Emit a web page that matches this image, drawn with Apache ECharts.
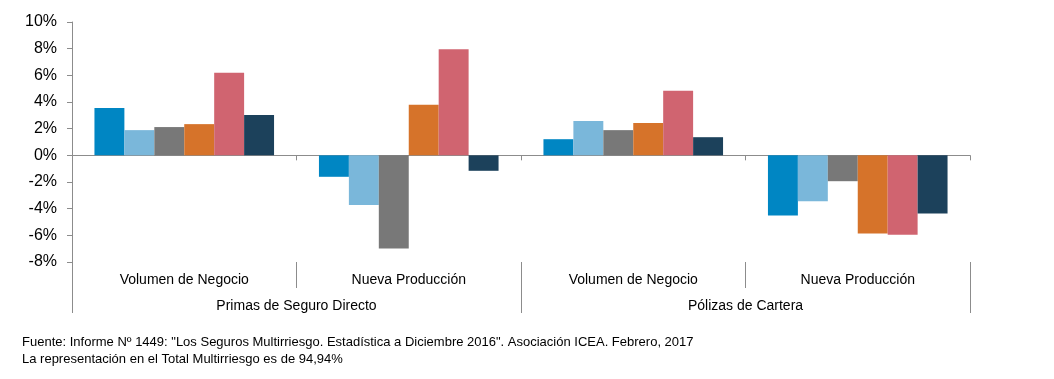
<!DOCTYPE html>
<html>
<head>
<meta charset="utf-8">
<script src="https://cdn.jsdelivr.net/npm/echarts@6/dist/echarts.min.js"></script>
<style>
html,body{margin:0;padding:0;background:#fff;}
#chart{width:1054px;height:379px;}
</style>
</head>
<body>
<div id="chart"></div>
<script>
const subCategories = ["Volumen de Negocio", "Nueva Producción", "Volumen de Negocio", "Nueva Producción"];
const parentCategories = ["Primas de Seguro Directo", "Pólizas de Cartera"];
const seriesNames = ["Serie 1", "Serie 2", "Serie 3", "Serie 4", "Serie 5", "Serie 6"];
const serie1 = [3.55, -1.61, 1.21, -4.51];
const serie2 = [1.89, -3.73, 2.57, -3.45];
const serie3 = [2.12, -6.98, 1.89, -1.94];
const serie4 = [2.34, 3.80, 2.42, -5.87];
const serie5 = [6.20, 7.96, 4.84, -5.95];
const serie6 = [3.02, -1.16, 1.36, -4.36];
const colors = ["#0086C3", "#7AB7DA", "#787878", "#D6732A", "#D06470", "#1C415B"];
const yTicks = {min: -8, max: 10, interval: 2};
const footnote1 = 'Fuente: Informe Nº 1449: "Los Seguros Multirriesgo. Estadística a Diciembre 2016". Asociación ICEA. Febrero, 2017';
const footnote2 = 'La representación en el Total Multirriesgo es de 94,94%';

const FONT = '"Liberation Sans", Arial, sans-serif';
const axisColor = '#8c8c8c';
const allSeries = [serie1, serie2, serie3, serie4, serie5, serie6];

const chart = echarts.init(document.getElementById('chart'), null, {renderer: 'canvas'});
chart.setOption({
  animation: false,
  backgroundColor: '#fff',
  grid: {left: 72, right: 84, top: 22, bottom: 117, containLabel: false},
  xAxis: [
    {
      type: 'category', data: subCategories, position: 'bottom',
      axisLine: {show: true, onZero: true, lineStyle: {color: axisColor, width: 1}},
      axisTick: {show: true, length: 5, interval: 0, lineStyle: {color: axisColor}},
      axisLabel: {show: false}, splitLine: {show: false}
    },
    {
      type: 'category', data: subCategories, position: 'bottom',
      axisLine: {show: false, onZero: false},
      axisTick: {show: true, length: 26, interval: 0, lineStyle: {color: axisColor}},
      axisLabel: {show: true, interval: 0, margin: 11, color: '#000', fontSize: 14, fontFamily: FONT},
      splitLine: {show: false}
    },
    {
      type: 'category', data: parentCategories, position: 'bottom', offset: 26,
      axisLine: {show: false, onZero: false},
      axisTick: {show: true, length: 25, interval: 0, lineStyle: {color: axisColor}},
      axisLabel: {show: true, interval: 0, margin: 11, color: '#000', fontSize: 14, fontFamily: FONT},
      splitLine: {show: false}
    }
  ],
  yAxis: {
    type: 'value', min: yTicks.min, max: yTicks.max, interval: yTicks.interval,
    axisLine: {show: true, lineStyle: {color: axisColor, width: 1}},
    axisTick: {show: true, length: 5, lineStyle: {color: axisColor}},
    axisLabel: {margin: 15, color: '#000', fontSize: 16, fontFamily: FONT, formatter: v => v + '%'},
    splitLine: {show: false}
  },
  series: allSeries.map((d, i) => ({
    name: seriesNames[i], type: 'bar', xAxisIndex: 0, data: d,
    barGap: 0, barCategoryGap: '20%',
    itemStyle: {color: colors[i]}
  })),
  graphic: [
    {type: 'text', left: 22, top: 336, style: {text: footnote1, font: '13px ' + FONT, fill: '#000'}},
    {type: 'text', left: 22, top: 353, style: {text: footnote2, font: '13px ' + FONT, fill: '#000'}}
  ]
});
</script>
</body>
</html>
